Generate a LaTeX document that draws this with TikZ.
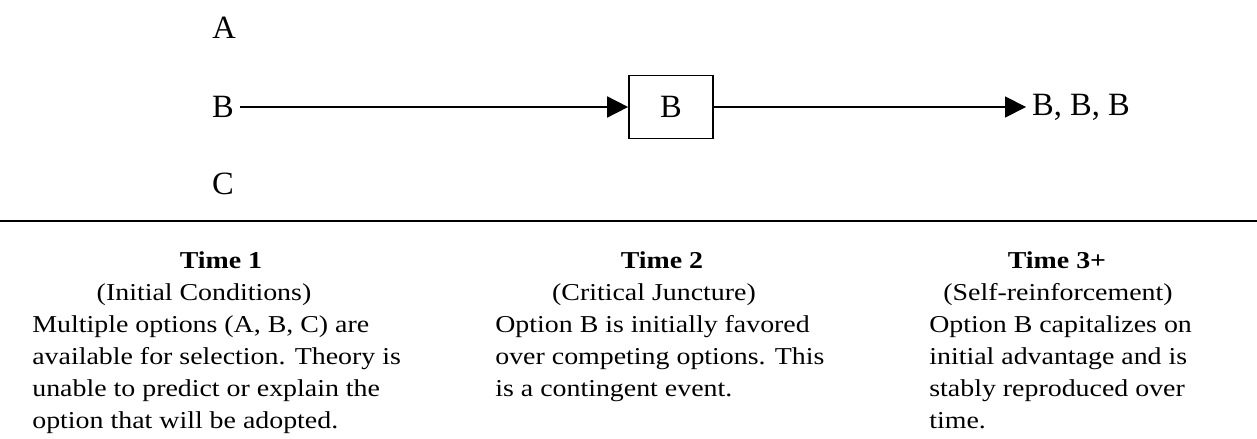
\documentclass[tikz,border=0pt]{standalone}
\usepackage{fontspec}
\setmainfont{Liberation Serif}
\newfontfamily\bodyfont[FakeStretch=1.15]{Liberation Serif}
\usetikzlibrary{arrows.meta}
\newcommand\txtsize{\bodyfont\fontsize{13.8}{18.2}\selectfont}
\tikzset{
 opt/.style={font=\fontsize{18.5}{20}\selectfont},
 juncture/.style={draw,line width=1pt,minimum width=1.68cm,minimum height=1.26cm,font=\fontsize{18.5}{20}\selectfont},
 flow/.style={-{Triangle[length=0.42cm,width=0.42cm]},line width=1pt},
 head/.style={anchor=base,font=\txtsize\bfseries},
 sub/.style={anchor=base,font=\txtsize},
 body/.style={anchor=north west,inner sep=0pt,align=left,font=\txtsize}
}
\begin{document}
\begin{tikzpicture}[x=0.02cm,y=-0.02cm]
\useasboundingbox(0,0)rectangle(1257,439);
% options at time 1
\node[opt](a)at(224,28){A};\node[opt](b)at(223,107){B};\node[opt](c)at(223,184){C};
\node[juncture](crit)at(671,107){B};\node[opt](bbb)at(1081,107){B, B, B};
\draw[flow](b)--(crit);\draw[flow](crit)--(bbb);
\draw[line width=1pt](0,221)--(1257,221);
% time 1
\node[head](t1)at(221,268){Time 1};\node[sub](s1)at(204,300){(Initial Conditions)};
\node[body](d1)at(32,315){Multiple options (A, B, C) are\\available for selection. Theory is\\unable to predict or explain the\\option that will be adopted.};
% time 2
\node[head](t2)at(662,268){Time 2};\node[sub](s2)at(654,300){(Critical Juncture)};
\node[body](d2)at(495,315){Option B is initially favored\\over competing options. This\\is a contingent event.};
% time 3+
\node[head](t3)at(1057,268){Time 3+};\node[sub](s3)at(1058,300){(Self-reinforcement)};
\node[body](d3)at(929,315){Option B capitalizes on\\initial advantage and is\\stably reproduced over\\time.};
\end{tikzpicture}
\end{document}
